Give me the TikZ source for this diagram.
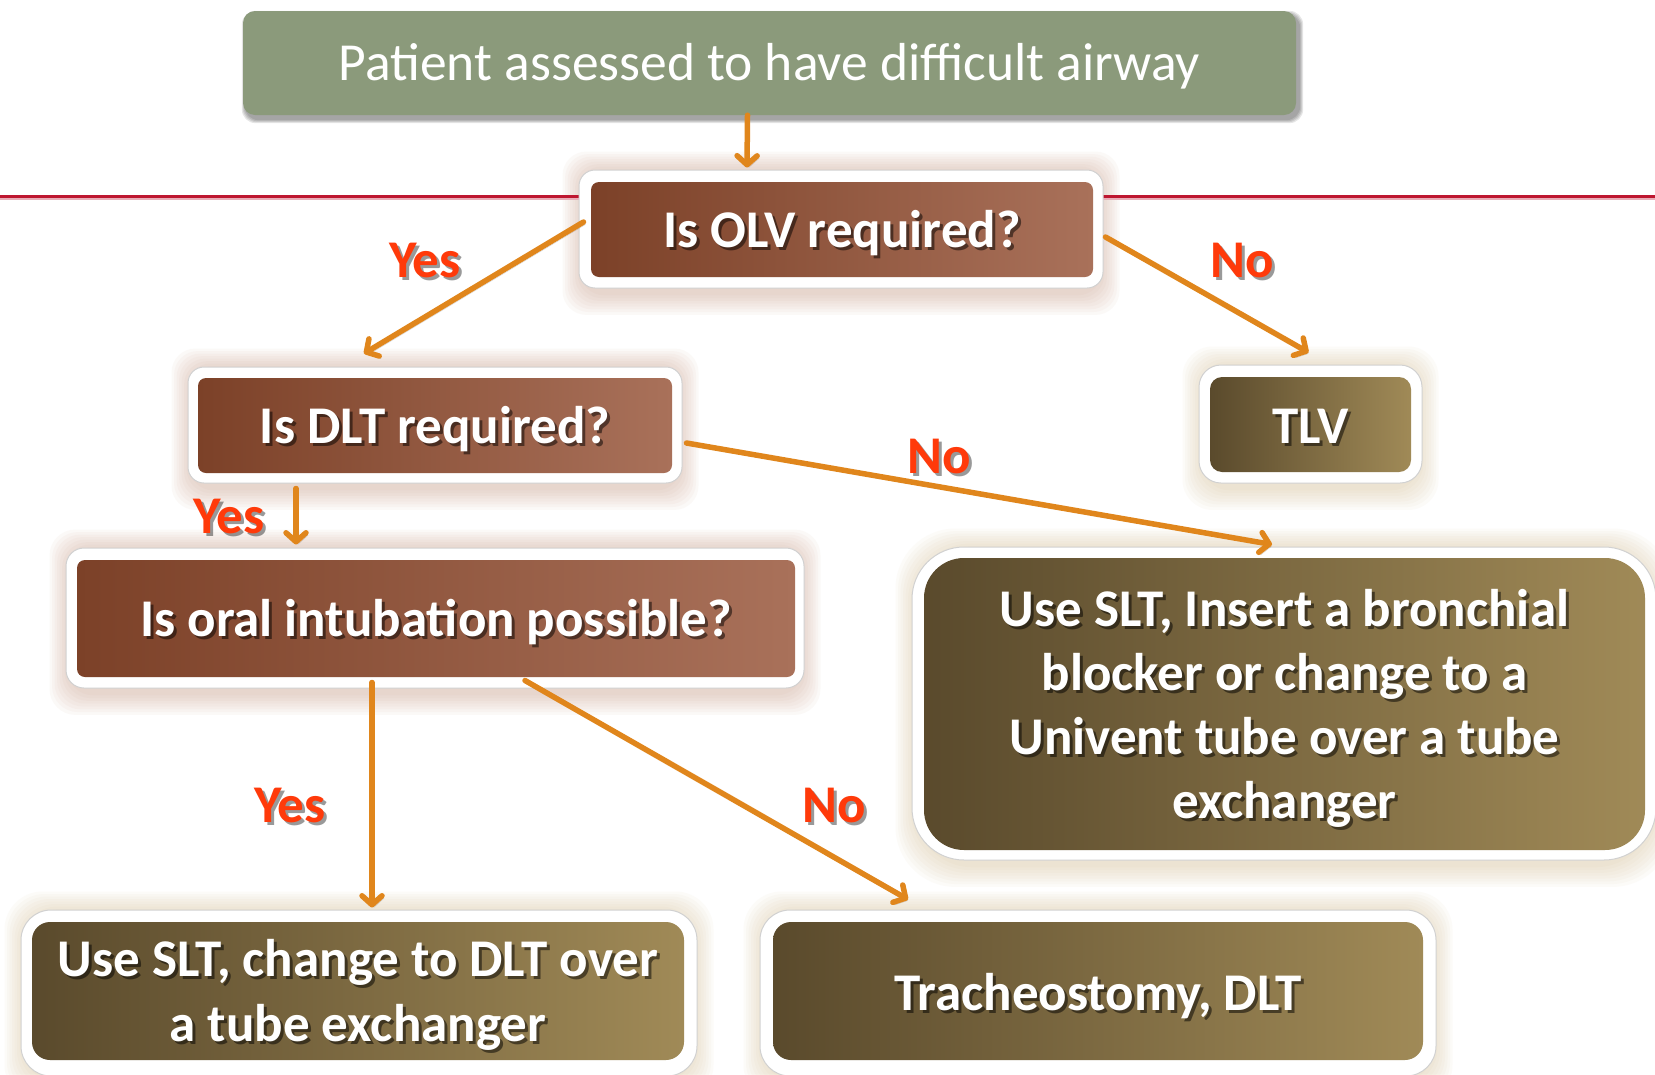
\documentclass[tikz,border=0pt]{standalone}
\usepackage{fontspec}
\setmainfont{Carlito}
\usetikzlibrary{arrows.meta}
\definecolor{topgreen}{HTML}{8B9A7B}
\definecolor{brownL}{HTML}{7C4128}
\definecolor{brownR}{HTML}{A9715A}
\definecolor{oliveL}{HTML}{5A4A2C}
\definecolor{oliveR}{HTML}{A08A57}
\definecolor{arrowc}{HTML}{E0861C}
\definecolor{labelc}{HTML}{FF3A0A}
\definecolor{redline}{HTML}{BE1630}
\definecolor{glowbrown}{HTML}{C99A86}
\definecolor{glowolive}{HTML}{D6BF92}
\pgfdeclarelayer{glowlayer}
\pgfdeclarelayer{linelayer}
\pgfsetlayers{glowlayer,linelayer,main}
\tikzset{
 frame/.style={fill=white, draw=black!18, line width=1pt, inner sep=0pt},
 brownbox/.style={left color=brownL, right color=brownR, draw=none, inner sep=0pt, rounded corners=8pt},
 olivebox/.style={left color=oliveL, right color=oliveR, draw=none, inner sep=0pt},
 boxtxt/.style={text=white, font=\fontsize{53}{64}\selectfont\bfseries, align=center, inner sep=0pt},
 shtxt/.style={boxtxt, text=black, opacity=0.5},
 lbl/.style={text=labelc, font=\fontsize{53}{64}\selectfont\bfseries, inner sep=0pt},
 lblsh/.style={lbl, text=black, opacity=0.4},
 arr/.style={draw=arrowc, line width=5.5pt, line cap=round,
   -{Straight Barb[length=9pt,width=20pt,round]},
   preaction={draw=black, opacity=0.18, transform canvas={xshift=2pt,yshift=-2.5pt}}},
}
\newcommand\btext[4][0]{%
 \node[shtxt] (#2s) at ([shift={(3,{3+#1})}]#3.center) {#4};
 \node[boxtxt] (#2) at ([shift={(0,#1)}]#3.center) {#4};}
\newcommand\ltext[3]{%
 \node[lblsh] (#1s) at ([shift={(3,3)}]#2) {#3};
 \node[lbl] (#1) at (#2) {#3};}
\newcommand\glowbox[3]{%
 \begin{pgfonlayer}{glowlayer}
 \foreach \g in {1,...,8}{
  \fill[#2, opacity=0.06, rounded corners=#3]
   ([shift={({-2.5*\g+4},{-2.5*\g+2})}]#1.north west) rectangle ([shift={({2.5*\g-4},{2.8*\g+4})}]#1.south east);
 }
 \end{pgfonlayer}}
\begin{document}
\begin{tikzpicture}[x=1pt,y=-1pt]
\useasboundingbox (0,0) rectangle (1655,1074);
\begin{pgfonlayer}{glowlayer}
\fill[white] (0,0) rectangle (1655,1074);
\end{pgfonlayer}
% top box
\node[fill=topgreen, rounded corners=12pt, minimum width=1053pt, minimum height=104pt, inner sep=0pt] (top) at (769.5,63) {};
\node[text=white, font=\fontsize{53.5}{64}\selectfont, inner sep=0pt] (topt) at ([shift={(0,3)}]top.center) {Patient assessed to have difficult airway};
\begin{pgfonlayer}{glowlayer}
\foreach \g in {1,...,4}{
 \fill[black, opacity=0.1, rounded corners=14pt] ([shift={({-\g+3},{-\g+4})}]top.north west) rectangle ([shift={({\g+3},{\g+4})}]top.south east);
}
\end{pgfonlayer}
% OLV
\node[frame, rounded corners=16pt, minimum width=524pt, minimum height=118pt] (olvO) at (841,229) {};
\node[brownbox, minimum width=502pt, minimum height=95pt] (olv) at (842,229.5) {};
\btext[4]{olvt}{olv}{Is OLV required?}
\glowbox{olvO}{glowbrown}{24pt}
% DLT
\node[frame, rounded corners=16pt, minimum width=494pt, minimum height=116pt] (dltO) at (435,425) {};
\node[brownbox, minimum width=474pt, minimum height=95pt] (dlt) at (435,425.5) {};
\btext[4]{dltt}{dlt}{Is DLT required?}
\glowbox{dltO}{glowbrown}{24pt}
% Oral
\node[frame, rounded corners=18pt, minimum width=738pt, minimum height=140pt] (oralO) at (435,618) {};
\node[brownbox, minimum width=718pt, minimum height=117pt] (oral) at (436,618.5) {};
\btext[4]{oralt}{oral}{Is oral intubation possible?}
\glowbox{oralO}{glowbrown}{26pt}
% TLV
\node[frame, rounded corners=22pt, minimum width=223pt, minimum height=118pt] (tlvO) at (1310.5,424) {};
\node[olivebox, rounded corners=12pt, minimum width=201pt, minimum height=95pt] (tlv) at (1310.5,424.5) {};
\btext[2]{tlvt}{tlv}{TLV}
\glowbox{tlvO}{glowolive}{30pt}
% big right box
\node[frame, rounded corners=52pt, minimum width=744pt, minimum height=313pt] (bigO) at (1284,703.5) {};
\node[olivebox, rounded corners=40pt, minimum width=721pt, minimum height=292pt] (big) at (1284.5,704) {};
\btext[4]{bigt}{big}{Use SLT, Insert a bronchial\\blocker or change to a\\Univent tube over a tube\\exchanger}
\glowbox{bigO}{glowolive}{60pt}
% bottom left
\node[frame, rounded corners=30pt, minimum width=676pt, minimum height=166pt] (blO) at (359,993) {};
\node[olivebox, rounded corners=18pt, minimum width=652pt, minimum height=138pt] (bl) at (358,991) {};
\btext[4]{blt}{bl}{Use SLT, change to DLT over\\[1pt]a tube exchanger}
\glowbox{blO}{glowolive}{38pt}
% bottom right
\node[frame, rounded corners=30pt, minimum width=676pt, minimum height=166pt] (brO) at (1098,993) {};
\node[olivebox, rounded corners=18pt, minimum width=650pt, minimum height=138pt] (br) at (1098,991) {};
\btext[5]{brt}{br}{Tracheostomy, DLT}
\glowbox{brO}{glowolive}{38pt}
% red line
\begin{pgfonlayer}{linelayer}
\draw[redline!35, line width=2pt] (0,199) -- (1655,199);
\draw[redline, line width=3pt] (0,196) -- (1655,196);
\end{pgfonlayer}
% arrows
\draw[arr] ([shift={(-22,0)}]top.south) -- ([shift={(-94,-2)}]olvO.north);
\draw[arr] ([shift={(5,-7)}]olvO.west) -- ([shift={(-71,-13)}]dltO.north);
\draw[arr] ([shift={(2,8)}]olvO.east) -- ([shift={(-2,-12)}]tlvO.north);
\draw[arr] ([shift={(4,18)}]dltO.east) -- ([shift={(-12,-2)}]bigO.north);
\draw[arr] ([shift={(-139,5)}]dltO.south) -- ([shift={(-139,-3)}]oralO.north);
\draw[arr] ([shift={(-63,-6)}]oralO.south) -- ([shift={(13,-2)}]blO.north);
\draw[arr] ([shift={(90,-8)}]oralO.south) -- ([shift={(-190,-10)}]brO.north);
% labels
\ltext{yes1}{425,261}{Yes}
\ltext{no1}{1242,261}{No}
\ltext{no2}{939,457}{No}
\ltext{yes2}{229,517}{Yes}
\ltext{yes3}{290,805}{Yes}
\ltext{no3}{834,805}{No}
\end{tikzpicture}
\end{document}
